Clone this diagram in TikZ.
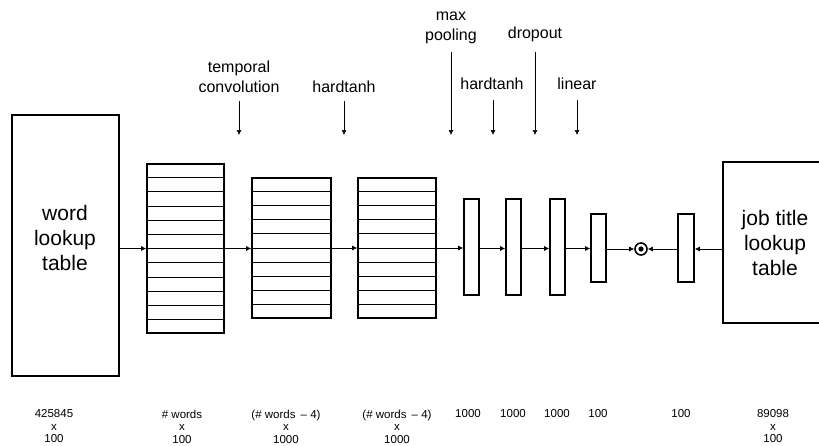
\documentclass[tikz,border=0pt]{standalone}
\usepackage{fontspec}
\setmainfont{Liberation Sans}
\usetikzlibrary{positioning,calc,arrows.meta}

\begin{document}
\begin{tikzpicture}[x=1pt,y=-1pt,
semithick,
tabletext/.style={align=center, font=\fontsize{21}{25}\selectfont},
layer/.style={rectangle, draw, line width=1.6pt, inner sep=0pt},
op/.style={align=center, font=\fontsize{16}{20}\selectfont, inner sep=0pt},
dims/.style={align=center, font=\fontsize{11.5}{12.5}\selectfont, inner sep=0pt},
flow/.style={line width=0.7pt, -{Latex[length=5pt,width=5pt]}},
rows/.style={line width=0.7pt}
]
    \useasboundingbox (0,0) rectangle (819,445);

    \node[layer, minimum width=107, minimum height=261] (W) at (65.5,245.5) {};
    \node[tabletext] (Wt) at (65,238) {word\\lookup\\table};
    \node[layer, minimum width=77, minimum height=169] (C1) at (185.5,248.5) {};
    \node[layer, minimum width=79, minimum height=140] (C2) at (291.5,248) {};
    \node[layer, minimum width=78, minimum height=140] (C3) at (397,248) {};
    \node[layer, minimum width=15, minimum height=96] (P) at (471.5,247) {};
    \node[layer, minimum width=15, minimum height=96] (H) at (513.5,247) {};
    \node[layer, minimum width=15, minimum height=96] (D) at (557.5,247) {};
    \node[layer, minimum width=15, minimum height=68] (L) at (598.5,248) {};
    \node[circle, draw, line width=1.6pt, minimum size=12, inner sep=0pt] (dot) at (641,249) {};
    \fill (dot.center) circle (2.6);
    \node[layer, minimum width=16, minimum height=68] (J) at (686,248) {};
    \draw[line width=1.6pt] (835,162) -- (723,162) -- (723,323) -- (835,323);
    \node[tabletext] (T) at (775,243) {job title\\lookup\\table};
    \coordinate (Tw) at (723,249);

    \foreach \k in {1,...,11}
      \draw[rows] ($(C1.north west)!\k/12!(C1.south west)$) -- ($(C1.north east)!\k/12!(C1.south east)$);
    \foreach \b in {C2,C3}
      \foreach \k in {1,...,9}
        \draw[rows] ($(\b.north west)!\k/10!(\b.south west)$) -- ($(\b.north east)!\k/10!(\b.south east)$);

    \draw[flow] (W.east |- C1.west) -- (C1.west);
    \draw[flow] (C1.east) -- (C1.east -| C2.west);
    \draw[flow] (C2.east) -- (C2.east -| C3.west);
    \draw[flow] (C3.east) -- (C3.east -| P.west);
    \draw[flow] (P.east |- C1.east) -- (C1.east -| H.west);
    \draw[flow] (H.east |- C1.east) -- (C1.east -| D.west);
    \draw[flow] (D.east |- C1.east) -- (C1.east -| L.west);
    \draw[flow] (L.east |- dot.west) -- (dot.west);
    \draw[flow] (Tw) -- (Tw -| J.east);
    \draw[flow] (J.west |- dot.east) -- (dot.east);

    \node[op] (conv) at (239,77) {temporal\\convolution};
    \node[op] (tanhA) at (344,87) {hardtanh};
    \node[op] (pool) at (451,28) {max\\pooling};
    \node[op] (tanhB) at (492,84) {hardtanh};
    \node[op] (drop) at (535,34) {dropout};
    \node[op] (lin) at (577,84) {linear};

    \draw[flow] (239,101) coordinate (convT) -- (239,135) coordinate (convB);
    \draw[flow] (344,101) coordinate (tanhAT) -- (344,135) coordinate (tanhAB);
    \draw[flow] (451,52) coordinate (poolT) -- (451,135) coordinate (poolB);
    \draw[flow] (493,100) coordinate (tanhBT) -- (493,135) coordinate (tanhBB);
    \draw[flow] (535,52) coordinate (dropT) -- (535,135) coordinate (dropB);
    \draw[flow] (577,100) coordinate (linT) -- (577,135) coordinate (linB);

    \node[dims] (dW) at (54,426.5) {425845\\x\\100};
    \node[dims] (dC1) at (182,426.5) {\# words\\x\\100};
    \node[dims] (dC2) at (286,426.5) {(\# words \,-- 4)\\x\\1000};
    \node[dims] (dC3) at (397,426.5) {(\# words \,-- 4)\\x\\1000};
    \node[dims] (dP) at (468,414) {1000};
    \node[dims] (dH) at (513,414) {1000};
    \node[dims] (dD) at (557,414) {1000};
    \node[dims] (dL) at (598,414) {100};
    \node[dims] (dJ) at (681,414) {100};
    \node[dims] (dT) at (773,426.5) {89098\\x\\100};
\end{tikzpicture}
\end{document}
